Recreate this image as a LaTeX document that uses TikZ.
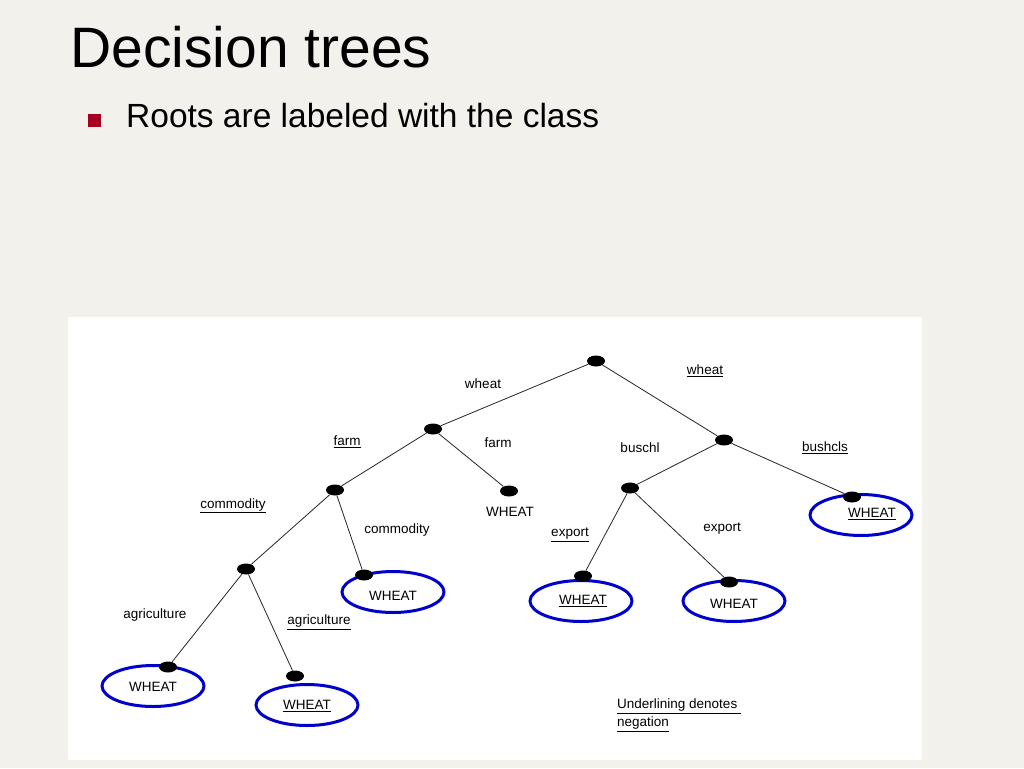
\documentclass[tikz,border=0pt]{standalone}
\usepackage{fontspec}
\setmainfont{Liberation Sans}
\usetikzlibrary{shapes.geometric}
\definecolor{bgc}{RGB}{242,241,235}
\definecolor{bulletred}{RGB}{165,0,33}
\definecolor{ringblue}{RGB}{0,0,204}
\tikzset{
  dot/.style={ellipse, fill=black, minimum width=18pt, minimum height=11pt, inner sep=0pt},
  ring/.style={ellipse, draw=ringblue, line width=3pt, minimum width=102pt, minimum height=41pt, inner sep=0pt},
  lbl/.style={font=\fontsize{13.5pt}{16pt}\selectfont, inner sep=0pt},
  edge/.style={draw=black!85, line width=0.8pt}
}
\begin{document}
\begin{tikzpicture}[x=1pt,y=-1pt]
\useasboundingbox (0,0) rectangle (1024,768);
\fill[bgc] (0,0) rectangle (1024,768);
% title
\node[anchor=base west, inner sep=0pt, font=\fontsize{57pt}{62pt}\selectfont] (title) at (70,67) {Decision trees};
\node[fill=bulletred, minimum size=12.5pt, inner sep=0pt] (bul) at (94.5,120.5) {};
\node[anchor=base west, inner sep=0pt, font=\fontsize{33.5pt}{38pt}\selectfont] (sub) at (126,127) {Roots are labeled with the class};
% panel
\fill[white] (68,317) rectangle (922,760);
% ellipses
\node[ring] (e1) at (153,686) {};
\node[ring] (e2) at (307,705) {};
\node[ring] (e3) at (393,592) {};
\node[ring] (e4) at (581,601) {};
\node[ring] (e5) at (734,601) {};
\node[ring] (e6) at (861,515) {};
% dots
\node[dot] (root) at (596,361) {};
\node[dot] (n1) at (433,429) {};
\node[dot] (n2) at (724,440) {};
\node[dot] (n3) at (335,490) {};
\node[dot] (lf) at (509,491) {};
\node[dot] (n4) at (246,569) {};
\node[dot] (n5) at (630,488) {};
\node[dot] (lc) at (364,575) {};
\node[dot] (lb) at (852,497) {};
\node[dot] (le1) at (583,576) {};
\node[dot] (le2) at (729,582) {};
\node[dot] (la1) at (168,667) {};
\node[dot] (la2) at (295,676) {};
% edges
\draw[edge] (root) -- (n1);
\draw[edge] (root) -- (n2);
\draw[edge] (n1) -- (n3);
\draw[edge] (n1) -- (lf);
\draw[edge] (n3) -- (n4);
\draw[edge] (n3) -- (lc);
\draw[edge] (n4) -- (la1);
\draw[edge] (n4) -- (la2);
\draw[edge] (n2) -- (n5);
\draw[edge] (n2) -- (lb);
\draw[edge] (n5) -- (le1);
\draw[edge] (n5) -- (le2);
% edge labels
\node[lbl] (t1) at (483,384) {wheat};
\node[lbl] (t2) at (705,371) {\underline{wheat}};
\node[lbl] (t3) at (347,442) {\underline{farm}};
\node[lbl] (t4) at (498,443) {farm};
\node[lbl] (t5) at (640,448) {buschl};
\node[lbl] (t6) at (825,448) {\underline{bushcls}};
\node[lbl] (t7) at (233,506) {\underline{commodity}};
\node[lbl] (t8) at (397,530) {commodity};
\node[lbl] (t9) at (570,535) {\underline{export}};
\node[lbl] (t10) at (722,529) {export};
\node[lbl] (t11) at (155,615) {agriculture};
\node[lbl] (t12) at (319,622) {\underline{agriculture}};
% leaf labels
\node[lbl] (w1) at (510,512) {WHEAT};
\node[lbl] (w2) at (393,596) {WHEAT};
\node[lbl] (w3) at (872,514) {\underline{WHEAT}};
\node[lbl] (w4) at (583,601) {\underline{WHEAT}};
\node[lbl] (w5) at (734,604) {WHEAT};
\node[lbl] (w6) at (153,687) {WHEAT};
\node[lbl] (w7) at (307,706) {\underline{WHEAT}};
% note
\node[lbl, anchor=west] (n1a) at (617,706) {\underline{Underlining denotes\ }};
\node[lbl, anchor=west] (n1b) at (617,724) {\underline{negation}};
\end{tikzpicture}
\end{document}
